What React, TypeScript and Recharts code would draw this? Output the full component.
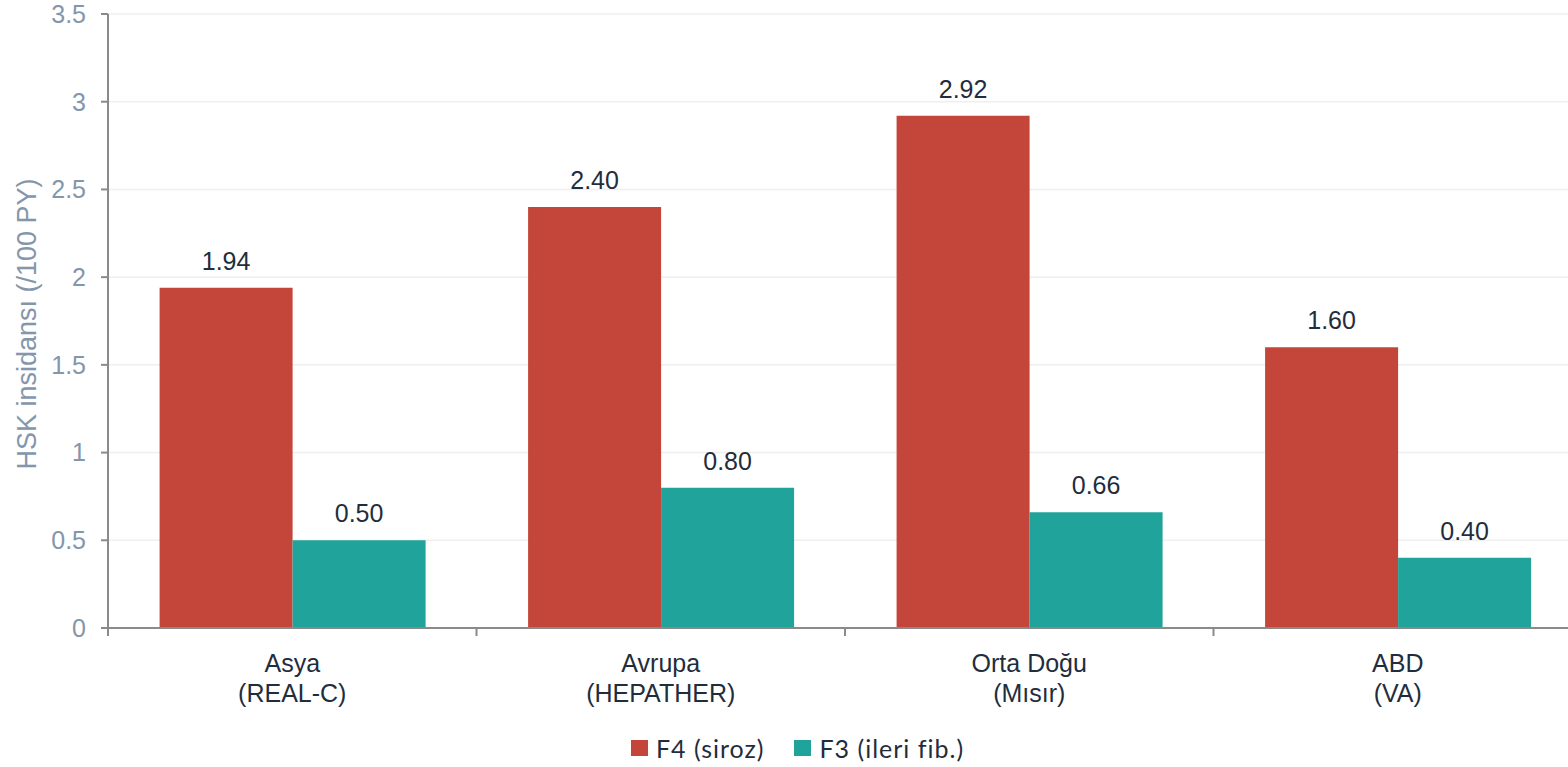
// HSK insidansı: F4 (siroz) ve F3 (ileri fibrozis) hastalarında bölgelere göre
import React from "react";
import {
  BarChart,
  Bar,
  XAxis,
  YAxis,
  CartesianGrid,
  Legend,
  LabelList,
} from "recharts";

const regions = ["Asya", "Avrupa", "Orta Doğu", "ABD"];
const cohorts = ["(REAL-C)", "(HEPATHER)", "(Mısır)", "(VA)"];
const f4Values = [1.94, 2.4, 2.92, 1.6];
const f3Values = [0.5, 0.8, 0.66, 0.4];
const yTicks = [0, 0.5, 1, 1.5, 2, 2.5, 3, 3.5];

const F4_COLOR = "#C4463A";
const F3_COLOR = "#20A39A";
const AXIS_COLOR = "#8a8a8a";
const TICK_COLOR = "#8496ab";
const TEXT_COLOR = "#1f2d3d";

const series = [
  { key: "f4", name: "F4 (siroz)", color: F4_COLOR },
  { key: "f3", name: "F3 (ileri fib.)", color: F3_COLOR },
];

const data = regions.map((region, i) => ({
  region,
  cohort: cohorts[i],
  f4: f4Values[i],
  f3: f3Values[i],
}));

// iki satırlı kategori etiketi + bant sınırındaki küçük çizgi
function CategoryTick(props: any) {
  const { x, y, payload, index } = props;
  const half = payload?.offset ?? 184;
  return (
    <g>
      <line x1={x - half} x2={x - half} y1={y} y2={y + 8} stroke={AXIS_COLOR} strokeWidth={2} />
      {index === regions.length - 1 && (
        <line x1={x + half} x2={x + half} y1={y} y2={y + 8} stroke={AXIS_COLOR} strokeWidth={2} />
      )}
      <text x={x} y={y + 44} textAnchor="middle" fill={TEXT_COLOR} fontSize={25}>
        {payload.value}
      </text>
      <text x={x} y={y + 74} textAnchor="middle" fill={TEXT_COLOR} fontSize={25}>
        {cohorts[index]}
      </text>
    </g>
  );
}

function YTitle(props: any) {
  const vb = props.viewBox ?? { x: 0, y: 14, width: 108, height: 614 };
  const cx = vb.x + 27;
  const cy = vb.y + vb.height / 2 + 3;
  return (
    <text
      x={cx}
      y={cy}
      transform={`rotate(-90 ${cx} ${cy})`}
      textAnchor="middle"
      dominantBaseline="central"
      fill={TICK_COLOR}
      fontSize={27}
    >
      HSK insidansı (/100 PY)
    </text>
  );
}

// lejant sırası seri sırasıyla aynı kalsın
function LegendContent() {
  return (
    <div
      style={{
        height: 28,
        display: "flex",
        justifyContent: "center",
        alignItems: "center",
        gap: 30,
        fontFamily: "Lato, 'Open Sans', sans-serif",
        fontSize: 25,
        letterSpacing: 1,
        color: TEXT_COLOR,
      }}
    >
      {series.map((s) => (
        <div key={s.key} style={{ display: "flex", alignItems: "center", gap: 8 }}>
          <span style={{ width: 17, height: 16, background: s.color, display: "inline-block" }} />
          <span>{s.name}</span>
        </div>
      ))}
    </div>
  );
}

export default function App() {
  return (
    <div
      style={{
        position: "fixed",
        left: 0,
        top: 0,
        width: 1568,
        height: 767,
        overflow: "hidden",
        background: "#fff",
      }}
    >
      <BarChart
        width={1600}
        height={767}
        data={data}
        margin={{ top: 14, right: 18, left: 0, bottom: 5 }}
        barCategoryGap="14%"
        barGap={0}
        style={{ fontFamily: "'Liberation Sans', Arial, sans-serif" }}
      >
        <CartesianGrid vertical={false} stroke="#efefef" strokeWidth={1.5} />
        <XAxis
          dataKey="region"
          height={106}
          interval={0}
          axisLine={{ stroke: AXIS_COLOR, strokeWidth: 2 }}
          tickLine={false}
          tickSize={0}
          tickMargin={0}
          tick={<CategoryTick />}
        />
        <YAxis
          width={108}
          domain={[0, 3.5]}
          ticks={yTicks}
          interval={0}
          axisLine={{ stroke: AXIS_COLOR, strokeWidth: 2 }}
          tickLine={{ stroke: AXIS_COLOR, strokeWidth: 2 }}
          tickSize={7}
          tickMargin={15}
          tick={{ fill: TICK_COLOR, fontSize: 25 }}
          label={<YTitle />}
        />
        <Legend
          verticalAlign="bottom"
          wrapperStyle={{ left: 0, width: 1595 }}
          content={<LegendContent />}
        />
        {series.map((s) => (
          <Bar key={s.key} dataKey={s.key} name={s.name} fill={s.color} isAnimationActive={false}>
            <LabelList
              dataKey={s.key}
              position="top"
              offset={18}
              fill={TEXT_COLOR}
              fontSize={25}
              formatter={(v: any) => Number(v).toFixed(2)}
            />
          </Bar>
        ))}
      </BarChart>
    </div>
  );
}
